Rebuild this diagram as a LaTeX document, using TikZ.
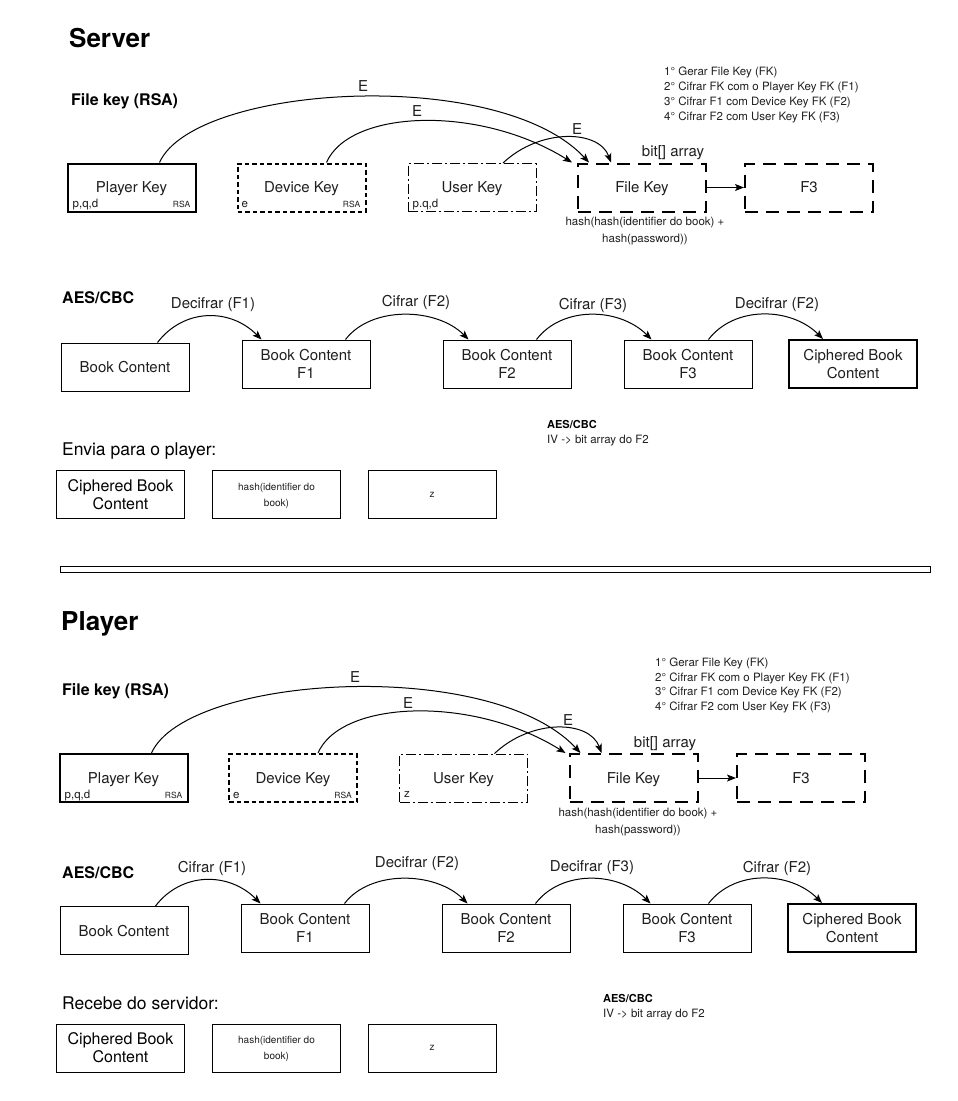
\documentclass[tikz,border=0pt]{standalone}
\usepackage{fontspec}
\setmainfont{TeX Gyre Heros}
\usetikzlibrary{arrows.meta}
\newcommand\fsz[2]{\fontsize{#1}{#2}\selectfont}
\definecolor{txt}{gray}{0.12}
\begin{document}
\begin{tikzpicture}[x=1pt,y=-1pt,
  box/.style={draw, line width=1pt, minimum width=128pt, minimum height=48pt, inner sep=0pt, align=center, font=\fsz{15}{17.5}, text=txt, text depth=0pt},
  thickbox/.style={line width=2pt},
  devbox/.style={line width=2pt, dash pattern=on 4.5pt off 3pt},
  usrbox/.style={line width=1pt, dash pattern=on 10pt off 3pt on 2pt off 3pt},
  fkbox/.style={line width=2pt, dash pattern=on 13pt off 8pt},
  title/.style={font=\fsz{26}{30}\bfseries, anchor=base west, inner sep=0pt},
  hd/.style={font=\fsz{16}{19}\bfseries, anchor=base west, inner sep=0pt},
  sub/.style={font=\fsz{17.5}{20}, anchor=base west, inner sep=0pt},
  lbl/.style={font=\fsz{15}{17}, inner sep=0pt, text=txt},
  corner/.style={font=\fsz{11.5}{13}, inner sep=0pt, text=txt},
  rsa/.style={font=\fsz{8.5}{10}, inner sep=0pt, text=txt},
  steps/.style={font=\fsz{11.5}{14.8}, align=left, inner sep=0pt, text=txt, anchor=west},
  small/.style={font=\fsz{11.5}{17}, align=center, inner sep=0pt, text=txt},
  note/.style={font=\fsz{11}{12}\bfseries, anchor=base west, inner sep=0pt},
  notetxt/.style={font=\fsz{11.5}{12}, anchor=base west, inner sep=0pt, text=txt},
  sendbox/.style={draw, line width=1pt, minimum width=128pt, minimum height=48pt, inner sep=0pt, align=center, text depth=0pt},
  conn/.style={line width=1pt, -{Stealth[length=9pt,width=7pt,inset=2pt]}}
]
\useasboundingbox (0,0) rectangle (958,1101);
\fill[white] (0,0) rectangle (958,1101);

% ================= SERVER =================
\node[title] (stitle) at (69,47) {Server};
\node[hd] (sfkh) at (71,105) {File key (RSA)};

\node[box, thickbox] (spk) at (131.5,187.5) {Player Key};
\node[box, devbox] (sdk) at (301.5,187.5) {Device Key};
\node[box, usrbox] (suk) at (472,187.5) {User Key};
\node[box, fkbox] (sfk) at (642,187.5) {File Key};
\node[box, fkbox] (sf3) at (809,187.5) {F3};

\node[corner, anchor=base west] (spka) at ([xshift=6pt,yshift=5pt]spk.south west) {p,q,d};
\node[rsa, anchor=base east] (spkb) at ([xshift=-6pt,yshift=5pt]spk.south east) {RSA};
\node[corner, anchor=base west] (sdka) at ([xshift=5pt,yshift=5pt]sdk.south west) {e};
\node[rsa, anchor=base east] (sdkb) at ([xshift=-6pt,yshift=5pt]sdk.south east) {RSA};
\node[corner, anchor=base west] (suka) at ([xshift=5pt,yshift=5pt]suk.south west) {p.q,d};

\draw[conn] ([xshift=28pt]spk.north) .. controls +(35,-78) and +(-90,-97) .. ([xshift=12pt]sfk.north west);
\draw[conn] ([xshift=25pt]sdk.north) .. controls +(23,-53) and +(-93,-58) .. ([xshift=-5pt]sfk.north west);
\draw[conn] ([xshift=31pt]suk.north) .. controls +(37,-35) and +(-12,-33) .. ([xshift=34pt]sfk.north west);
\draw[conn] (sfk) -- (sf3);

\node[lbl] (se1) at (363,86) {E};
\node[lbl] (se2) at (417,111) {E};
\node[lbl] (se3) at (577,129) {E};
\node[lbl] (sbit) at (673,153) {bit[] array};
\node[small] (shash) at (645,231) {hash(hash(identifier do book) +\\hash(password))};
\node[steps] (ssteps) at (664,95) {1° Gerar File Key (FK)\\2° Cifrar FK com o Player Key FK (F1)\\3° Cifrar F1 com Device Key FK (F2)\\4° Cifrar F2 com User Key FK (F3)};

\node[hd] (saes) at (62,303) {AES/CBC};
\node[box] (sb0) at (125,367) {Book Content};
\node[box] (sb1) at (306,364) {Book Content\\F1};
\node[box] (sb2) at (507,364) {Book Content\\F2};
\node[box] (sb3) at (688,364) {Book Content\\F3};
\node[box, thickbox] (sb4) at (853,364) {Ciphered Book\\Content};

\draw[conn] ([xshift=-32pt]sb0.north east) .. controls +(26,-34) and +(-32,-32) .. ([xshift=20pt]sb1.north west);
\draw[conn] ([xshift=-25pt]sb1.north east) .. controls +(26,-34) and +(-32,-32) .. ([xshift=26pt]sb2.north west);
\draw[conn] ([xshift=-35pt]sb2.north east) .. controls +(26,-34) and +(-32,-32) .. ([xshift=28pt]sb3.north west);
\draw[conn] ([xshift=-44pt]sb3.north east) .. controls +(26,-34) and +(-32,-32) .. ([xshift=35pt]sb4.north west);

\node[lbl] (sl1) at (213,305) {Decifrar (F1)};
\node[lbl] (sl2) at (416,302) {Cifrar (F2)};
\node[lbl] (sl3) at (593,305) {Cifrar (F3)};
\node[lbl] (sl4) at (777,305) {Decifrar (F2)};

\node[note] (snote) at (547,428) {AES/CBC};
\node[notetxt] (snote2) at (547,443) {IV -> bit array do F2};

\node[sub] (ssend) at (62,455) {Envia para o player:};
\node[sendbox, font=\fsz{16}{18}] (ss1) at (120.5,494.5) {Ciphered Book\\Content};
\node[sendbox, font=\fsz{10}{16}, text=txt] (ss2) at (276.5,494.5) {hash(identifier do\\book)};
\node[sendbox, font=\fsz{10}{12}, text=txt] (ss3) at (432,494.5) {z};

% separator
\node[draw, line width=1pt, minimum width=870pt, minimum height=6pt, inner sep=0pt] (sep) at (495,569) {};

% ================= PLAYER =================
\node[title] (ptitle) at (61,630) {Player};
\node[hd] (pfkh) at (62,695) {File key (RSA)};

\node[box, thickbox] (ppk) at (123.5,778) {Player Key};
\node[box, devbox] (pdk) at (293,778) {Device Key};
\node[box, usrbox] (puk) at (463.5,778) {User Key};
\node[box, fkbox] (pfk) at (633.5,778) {File Key};
\node[box, fkbox] (pf3) at (801,778) {F3};

\node[corner, anchor=base west] (ppka) at ([xshift=6pt,yshift=5pt]ppk.south west) {p,q,d};
\node[rsa, anchor=base east] (ppkb) at ([xshift=-6pt,yshift=5pt]ppk.south east) {RSA};
\node[corner, anchor=base west] (pdka) at ([xshift=5pt,yshift=5pt]pdk.south west) {e};
\node[rsa, anchor=base east] (pdkb) at ([xshift=-6pt,yshift=5pt]pdk.south east) {RSA};
\node[corner, anchor=base west] (puka) at ([xshift=5pt,yshift=5pt]puk.south west) {z};

\draw[conn] ([xshift=28pt]ppk.north) .. controls +(35,-78) and +(-90,-97) .. ([xshift=12pt]pfk.north west);
\draw[conn] ([xshift=25pt]pdk.north) .. controls +(23,-53) and +(-93,-58) .. ([xshift=-3pt]pfk.north west);
\draw[conn] ([xshift=31pt]puk.north) .. controls +(37,-35) and +(-12,-33) .. ([xshift=33pt]pfk.north west);
\draw[conn] (pfk) -- (pf3);

\node[lbl] (pe1) at (355,677) {E};
\node[lbl] (pe2) at (408,703) {E};
\node[lbl] (pe3) at (568,720) {E};
\node[lbl] (pbit) at (665,744) {bit[] array};
\node[small] (phash) at (638,822) {hash(hash(identifier do book) +\\hash(password))};
\node[steps] (psteps) at (655,685.5) {1° Gerar File Key (FK)\\2° Cifrar FK com o Player Key FK (F1)\\3° Cifrar F1 com Device Key FK (F2)\\4° Cifrar F2 com User Key FK (F3)};

\node[hd] (paes) at (62,878) {AES/CBC};
\node[box] (pb0) at (124,930.5) {Book Content};
\node[box] (pb1) at (305,928) {Book Content\\F1};
\node[box] (pb2) at (506,928) {Book Content\\F2};
\node[box] (pb3) at (687,928) {Book Content\\F3};
\node[box, thickbox] (pb4) at (852,928) {Ciphered Book\\Content};

\draw[conn] ([xshift=-33pt]pb0.north east) .. controls +(26,-34) and +(-32,-32) .. ([xshift=20pt]pb1.north west);
\draw[conn] ([xshift=-25pt]pb1.north east) .. controls +(26,-34) and +(-32,-32) .. ([xshift=26pt]pb2.north west);
\draw[conn] ([xshift=-35pt]pb2.north east) .. controls +(26,-34) and +(-32,-32) .. ([xshift=28pt]pb3.north west);
\draw[conn] ([xshift=-43pt]pb3.north east) .. controls +(26,-34) and +(-32,-32) .. ([xshift=35pt]pb4.north west);

\node[lbl] (pl1) at (212,868) {Cifrar (F1)};
\node[lbl] (pl2) at (417,864) {Decifrar (F2)};
\node[lbl] (pl3) at (592,868) {Decifrar (F3)};
\node[lbl] (pl4) at (777,868) {Cifrar (F2)};

\node[note] (pnote) at (603,1002) {AES/CBC};
\node[notetxt] (pnote2) at (603,1017) {IV -> bit array do F2};

\node[sub] (precv) at (62,1009) {Recebe do servidor:};
\node[sendbox, font=\fsz{16}{18}] (pr1) at (120.5,1048) {Ciphered Book\\Content};
\node[sendbox, font=\fsz{10}{16}, text=txt] (pr2) at (276.5,1048) {hash(identifier do\\book)};
\node[sendbox, font=\fsz{10}{12}, text=txt] (pr3) at (432,1048) {z};
\end{tikzpicture}
\end{document}
